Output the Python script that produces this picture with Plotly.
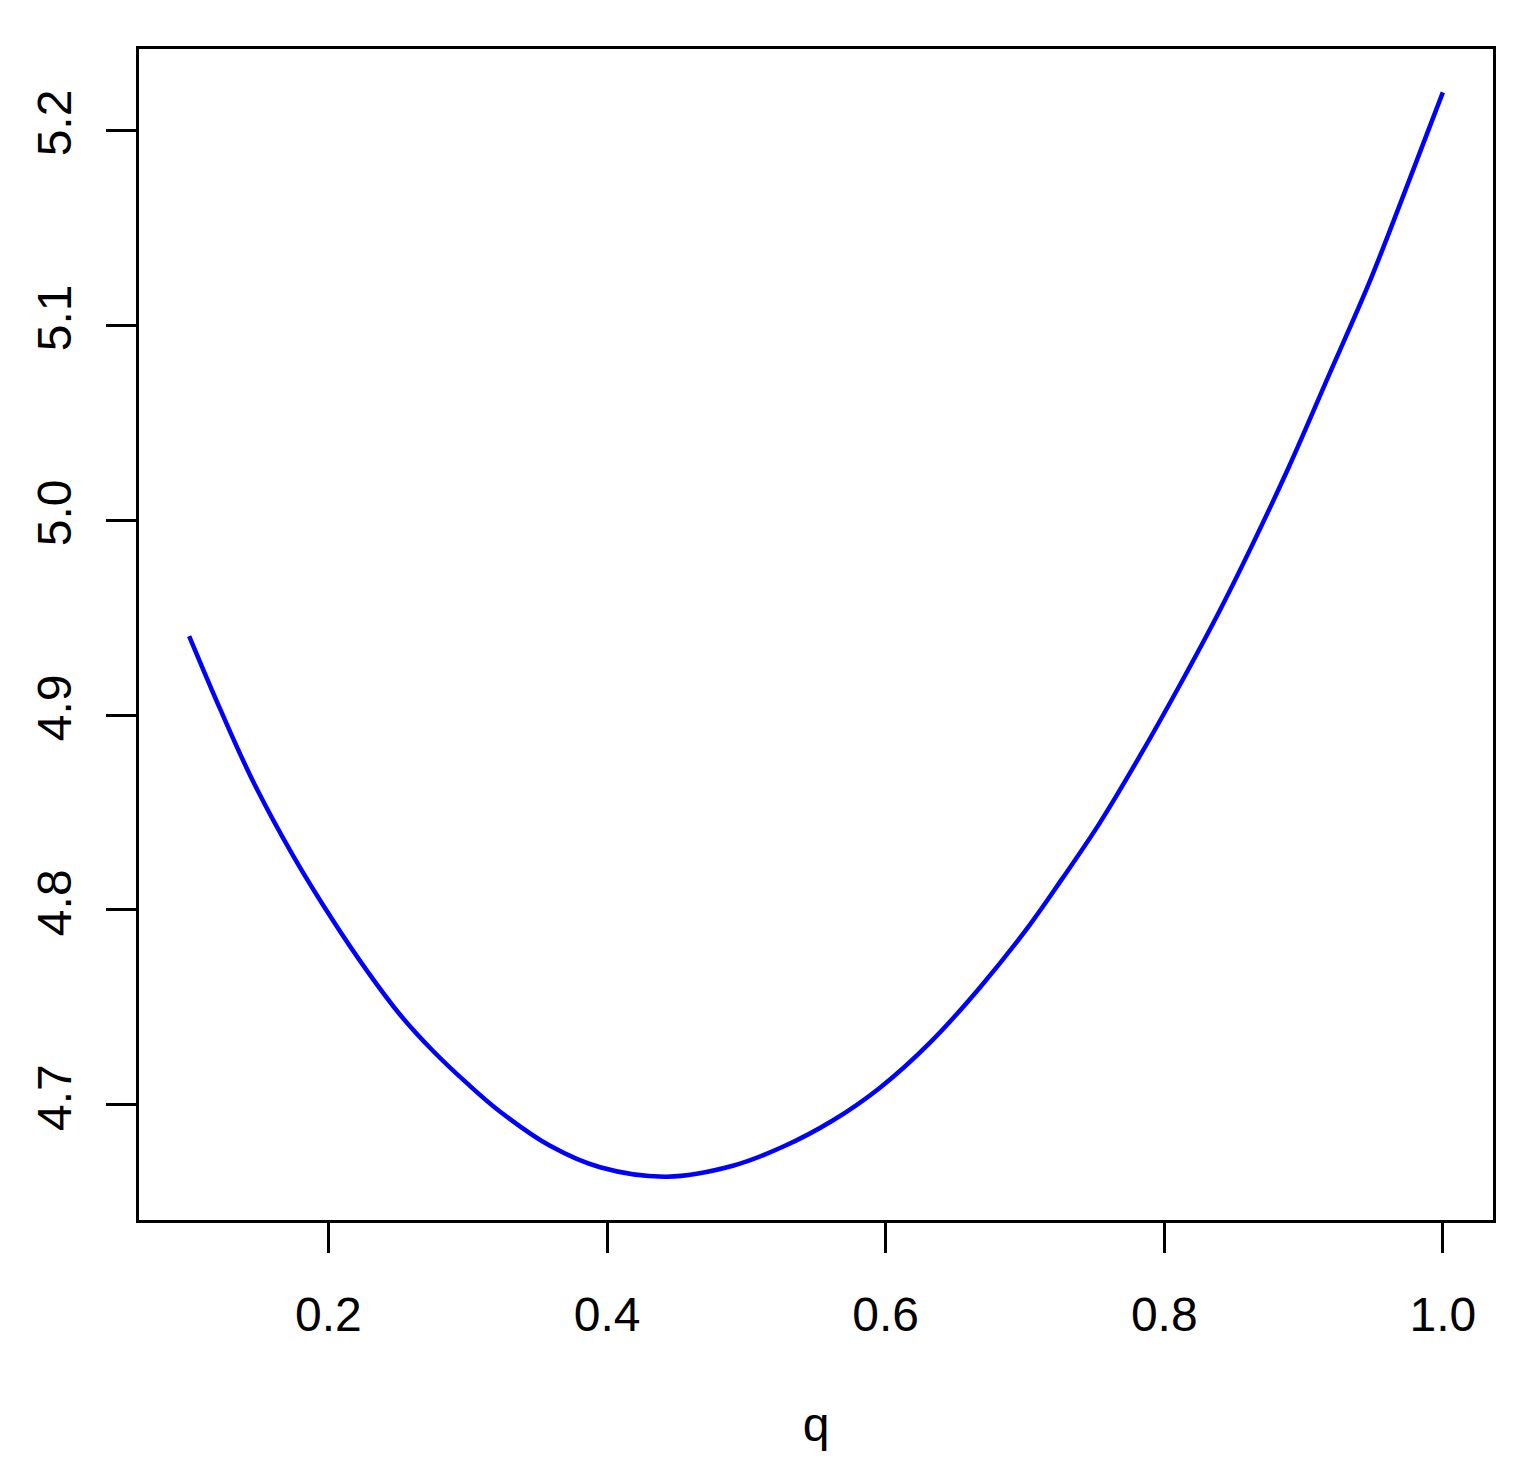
import plotly.graph_objects as go

# Values
q_values = [0.100, 0.1226, 0.1462, 0.1749, 0.2036, 0.2280, 0.2516, 0.2753, 0.2996, 0.3233,
            0.3591, 0.3950, 0.4430, 0.4903, 0.5262, 0.5620, 0.5957, 0.6315, 0.6674, 0.7032,
            0.7269, 0.7534, 0.7821, 0.8108, 0.8394, 0.8627, 0.8896, 0.9183, 0.9470, 0.9706,
            1.000]
f_values = [4.9405, 4.9025, 4.8655, 4.8275, 4.7942, 4.7685, 4.7461, 4.7275, 4.7110, 4.6965,
            4.6790, 4.6680, 4.6632, 4.6688, 4.6785, 4.6920, 4.7087, 4.7317, 4.7600, 4.7921,
            4.8162, 4.8443, 4.8785, 4.9149, 4.9530, 4.9865, 5.0275, 5.0745, 5.1215, 5.1645,
            5.2194]

x_ticks = [0.2, 0.4, 0.6, 0.8, 1.0]
x_ticklabels = ["0.2", "0.4", "0.6", "0.8", "1.0"]
y_ticks = [4.7, 4.8, 4.9, 5.0, 5.1, 5.2]
y_ticklabels = ["4.7", "4.8", "4.9", "5.0", "5.1", "5.2"]

fig = go.Figure()
fig.add_trace(go.Scatter(x=q_values, y=f_values, mode="lines",
                         line=dict(color="#0000FF", width=4.5, shape="spline", smoothing=1.0),
                         showlegend=False, hoverinfo="skip"))

font = dict(family="Liberation Sans, Arial, sans-serif", size=48, color="black")

xr = (min(q_values), max(q_values))
yr = (min(f_values), max(f_values))
xpad = 0.04 * (xr[1] - xr[0])
ypad = 0.04 * (yr[1] - yr[0])

fig.update_layout(
    width=1528, height=1462,
    margin=dict(l=131, r=43, t=41, b=250),
    paper_bgcolor="white", plot_bgcolor="white",
    font=font,
    xaxis=dict(range=[xr[0] - xpad, xr[1] + xpad], tickvals=x_ticks, ticktext=x_ticklabels,
               ticks="outside", ticklen=30, tickwidth=2.5, tickcolor="black",
               showline=True, linecolor="black", linewidth=3, mirror=True,
               showgrid=False, zeroline=False, tickfont=font, ticklabelstandoff=20,
               title=dict(text="q", font=font, standoff=68)),
    yaxis=dict(range=[yr[0] - ypad, yr[1] + ypad], tickvals=y_ticks, ticktext=y_ticklabels,
               ticks="outside", ticklen=30, tickwidth=2.5, tickcolor="black",
               showline=True, linecolor="black", linewidth=3, mirror=True,
               showgrid=False, zeroline=False, tickfont=font, tickangle=-90,
               ticklabelstandoff=16),
)

fig.write_html("out.html")
